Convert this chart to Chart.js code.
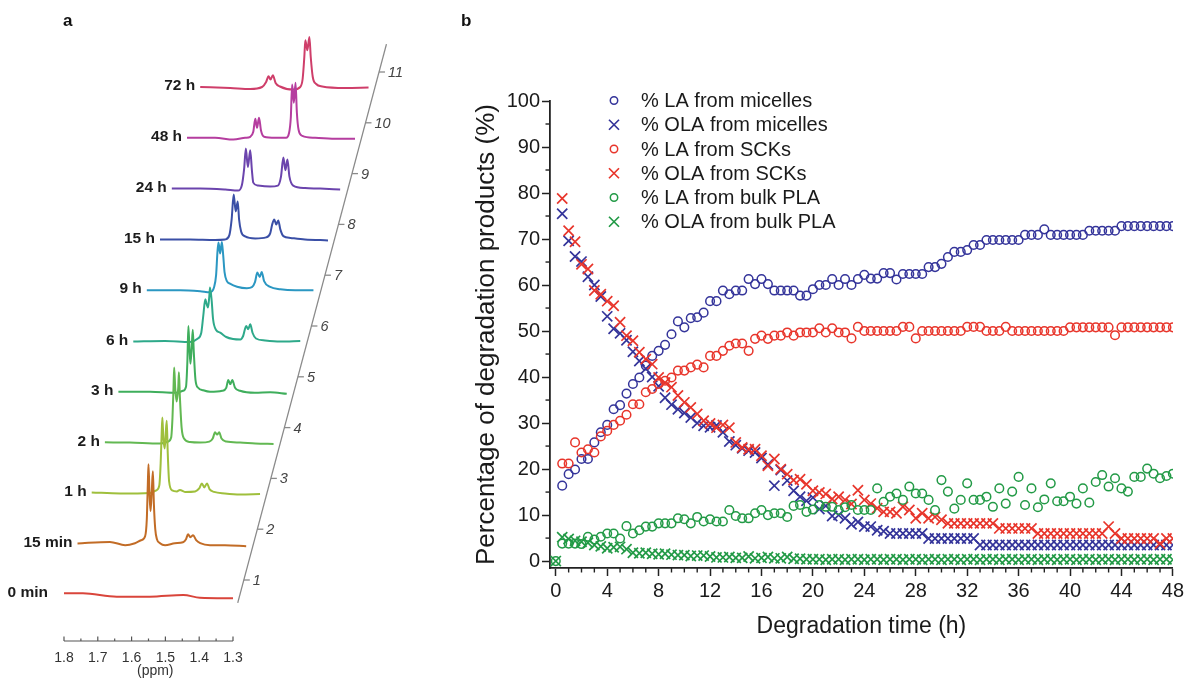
<!DOCTYPE html>
<html>
<head>
<meta charset="utf-8">
<title>PLA degradation: NMR spectra and product kinetics</title>
<script src="https://cdn.jsdelivr.net/npm/chart.js@4.4.1/dist/chart.umd.min.js"></script>
<style>
  html, body { margin: 0; padding: 0; background: #ffffff; }
  #wrap { position: relative; width: 1187px; height: 678px; overflow: hidden;
          font-family: "Liberation Sans", Arial, Helvetica, sans-serif; }
  #nmr { position: absolute; left: 0; top: 0; }
  #kin { position: absolute; left: 440px; top: 0; }
  .tag { position: absolute; top: 12px; font-size: 17px; line-height: 1; font-weight: bold; color: #111; }
</style>
</head>
<body>
<div id="wrap">
  <canvas id="nmr" width="440" height="678"></canvas>
  <canvas id="kin" width="747" height="678"></canvas>
  <div class="tag" style="left:63px">a</div>
  <div class="tag" style="left:461px">b</div>
</div>
<script>
// ---------- Panel a: 1H NMR spectra (ppm, intensity) ----------
const spectrumLabels = ['0 min', '15 min', '1 h', '2 h', '3 h', '6 h', '9 h', '15 h', '24 h', '48 h', '72 h'];
const stackTickLabels = ['1', '2', '3', '4', '5', '6', '7', '8', '9', '10', '11'];
const ppmTickValues = [1.8, 1.7, 1.6, 1.5, 1.4, 1.3];
const ppmTickLabels = ['1.8', '1.7', '1.6', '1.5', '1.4', '1.3'];

const spec0min = [[1.800,1.7],[1.744,1.7],[1.644,-1.7],[1.546,-1.7],[1.447,0],[1.398,-2.7],[1.300,-3.3]];
const spec15min = [[1.800,0.7],[1.704,2.3],[1.659,-1],[1.630,1],[1.612,4],[1.600,8],[1.595,25],[1.592,60],[1.590,80],
  [1.587,50],[1.584,33],[1.580,55],[1.577,73],[1.574,40],[1.570,15],[1.565,5],[1.556,1],[1.541,-1],[1.512,1],[1.488,2],
  [1.479,5],[1.473,10],[1.466,7],[1.458,9],[1.449,4],[1.437,1],[1.408,-1],[1.364,-1],[1.301,-2]];
const spec1h = [[1.798,1],[1.714,0],[1.625,0.5],[1.607,3],[1.598,8],[1.594,30],[1.591,60],[1.589,76],[1.586,55],[1.582,45],
  [1.579,60],[1.576,72.7],[1.573,40],[1.569,12],[1.560,3],[1.546,2],[1.537,3.5],[1.522,1.5],[1.492,2],[1.480,5],[1.472,10],
  [1.465,6],[1.457,10],[1.449,4],[1.436,1.5],[1.404,0],[1.359,-1],[1.300,-0.7]];
const spec2h = [[1.799,0.3],[1.725,0],[1.636,-1],[1.612,1],[1.603,5],[1.599,25],[1.596,55],[1.594,75],[1.591,55],[1.587,41],
  [1.582,55],[1.580,70.3],[1.577,45],[1.572,15],[1.565,4],[1.547,0.5],[1.517,0],[1.490,1],[1.480,4],[1.473,10.3],[1.467,8],
  [1.461,10.3],[1.454,4],[1.440,1],[1.399,0],[1.354,-1],[1.300,-1.3]];
const spec3h = [[1.799,0],[1.705,0],[1.631,-1],[1.608,1],[1.599,5],[1.595,30],[1.592,65.7],[1.589,45],[1.586,28],[1.582,45],
  [1.579,62],[1.576,40],[1.571,12],[1.563,4],[1.548,1.5],[1.528,0],[1.492,1],[1.480,4],[1.474,11.7],[1.468,7.7],[1.462,11.7],
  [1.454,4],[1.439,1],[1.395,-1],[1.350,-0.5],[1.301,-2]];
const spec6h = [[1.795,-0.6],[1.701,0],[1.627,-1],[1.606,2],[1.594,8],[1.588,25],[1.582,41.7],[1.578,37],[1.574,33.4],[1.570,45],
  [1.568,53.4],[1.563,40],[1.559,22],[1.550,11],[1.538,8.4],[1.520,4],[1.500,2],[1.478,1.5],[1.470,5],[1.461,15],[1.455,11.7],
  [1.449,16.7],[1.442,8],[1.432,2.5],[1.405,0.5],[1.361,-0.5],[1.301,0]];
const spec9h = [[1.795,0],[1.696,0],[1.637,-1],[1.608,-2],[1.596,3],[1.590,15],[1.586,38],[1.583,47.6],[1.578,36.6],[1.573,48.3],
  [1.569,35],[1.565,18],[1.558,9],[1.549,6.6],[1.528,3.5],[1.499,2],[1.484,3],[1.475,8],[1.468,17.6],[1.461,13.3],[1.455,18.3],
  [1.448,9],[1.430,3.3],[1.400,1],[1.356,0],[1.302,0]];
const spec15h = [[1.796,0],[1.707,0],[1.633,-0.5],[1.603,0],[1.591,4],[1.584,20],[1.578,45],[1.572,28],[1.566,38],[1.562,20],
  [1.556,8],[1.544,3],[1.514,1],[1.482,2],[1.470,6],[1.464,15],[1.458,20],[1.452,15],[1.446,19],[1.440,10],[1.431,3.3],
  [1.410,1.5],[1.367,0],[1.299,-1]];
const spec24h = [[1.801,0],[1.717,0],[1.643,-1],[1.605,-2],[1.594,3],[1.587,20],[1.582,40],[1.576,21.7],[1.569,38.3],[1.564,18],
  [1.560,6],[1.546,3],[1.510,2],[1.487,3],[1.478,12],[1.471,31],[1.465,18.3],[1.459,29],[1.453,12],[1.442,3],[1.407,0.5],
  [1.362,0],[1.303,-1]];
const spec48h = [[1.796,0],[1.713,0],[1.659,-1.7],[1.624,0],[1.609,1],[1.600,6],[1.594,19],[1.589,10],[1.583,20],[1.577,7],
  [1.568,1],[1.535,0],[1.503,0],[1.494,5],[1.489,20],[1.485,53.3],[1.480,35],[1.475,55],[1.471,25],[1.466,8],[1.455,2],
  [1.417,0],[1.358,-1],[1.299,-1]];
const spec72h = [[1.797,0],[1.708,-1],[1.649,-2],[1.614,0],[1.602,5],[1.595,10.7],[1.589,7.4],[1.582,11.7],[1.574,4],[1.561,0.5],
  [1.522,-2.6],[1.501,0],[1.494,8],[1.489,30],[1.486,46.7],[1.480,36.7],[1.474,50],[1.470,30],[1.464,10],[1.454,3],[1.436,0.5],
  [1.368,-1],[1.299,-0.6]];
const spectra = [spec0min, spec15min, spec1h, spec2h, spec3h, spec6h, spec9h, spec15h, spec24h, spec48h, spec72h];

// ---------- Panel b: degradation products vs time ----------
const hours = [0.5,1,1.5,2,2.5,3,3.5,4,4.5,5,5.5,6,6.5,7,7.5,8,8.5,9,9.5,10,10.5,11,11.5,12,12.5,13,13.5,14,14.5,15,
  15.5,16,16.5,17,17.5,18,18.5,19,19.5,20,20.5,21,21.5,22,22.5,23,23.5,24,24.5,25,25.5,26,26.5,27,27.5,28,28.5,29,29.5,30,
  30.5,31,31.5,32,32.5,33,33.5,34,34.5,35,35.5,36,36.5,37,37.5,38,38.5,39,39.5,40,40.5,41,41.5,42,42.5,43,43.5,44,44.5,45,
  45.5,46,46.5,47,47.5,48];
const hoursBulk = [0].concat(hours);

const laMicelles = [16.4,18.9,19.9,22.2,22.2,25.8,28.0,29.6,33.0,33.9,
  36.4,38.5,39.9,42.5,44.6,45.7,47.0,49.3,52.1,50.8,
  52.8,53.0,54.0,56.5,56.5,58.8,58.0,58.8,58.8,61.3,
  60.2,61.3,60.2,58.8,58.8,58.8,58.8,57.7,57.7,59.1,
  60.0,60.0,61.3,60.0,61.3,60.0,61.3,62.2,61.4,61.4,
  62.6,62.6,61.2,62.4,62.4,62.4,62.4,63.9,63.9,64.6,
  66.1,67.2,67.2,67.6,68.7,68.7,69.8,69.8,69.8,69.8,
  69.8,69.8,70.9,70.9,70.9,72.1,70.9,70.9,70.9,70.9,
  70.9,70.9,71.8,71.8,71.8,71.8,71.8,72.8,72.8,72.8,
  72.8,72.8,72.8,72.8,72.8,72.8];
const olaMicelles = [75.5,69.6,66.2,65.1,61.8,60.0,57.5,53.2,50.5,49.5,
  48.0,45.5,43.5,41.8,40.0,38.0,35.5,34.0,33.0,32.2,
  31.2,30.0,29.4,29.1,29.5,28.0,26.0,25.2,24.5,24.0,
  23.6,22.4,21.0,16.4,19.8,17.5,15.3,14.0,13.1,13.8,
  11.3,12.0,9.8,10.0,9.3,8.0,8.5,7.5,7.5,6.7,
  6.5,6.0,6.0,6.0,6.0,6.0,6.0,4.9,4.9,4.9,
  4.9,4.9,4.9,4.9,4.9,3.5,3.5,3.5,3.5,3.5,
  3.5,3.5,3.5,3.5,3.5,3.5,3.5,3.5,3.5,3.5,
  3.5,3.5,3.5,3.5,3.5,3.5,3.5,3.5,3.5,3.5,
  3.5,3.5,3.5,3.5,3.5,3.5];
const laSCKs = [21.2,21.2,25.8,23.6,24.3,23.6,27.1,28.3,29.6,30.5,
  31.8,34.1,34.1,36.7,37.4,38.5,39.2,39.9,41.4,41.4,
  42.1,42.7,42.1,44.6,44.6,45.7,46.8,47.3,47.3,45.7,
  48.3,49.0,48.3,49.0,49.0,49.7,49.0,49.7,49.7,49.7,
  50.6,49.7,50.6,49.7,49.7,48.4,50.9,50.0,50.0,50.0,
  50.0,50.0,50.0,50.9,50.9,48.4,50.0,50.0,50.0,50.0,
  50.0,50.0,50.0,50.9,50.9,50.9,50.0,50.0,50.0,50.9,
  50.0,50.0,50.0,50.0,50.0,50.0,50.0,50.0,50.0,50.8,
  50.8,50.8,50.8,50.8,50.8,50.8,49.1,50.8,50.8,50.8,
  50.8,50.8,50.8,50.8,50.8,50.8];
const olaSCKs = [78.8,71.8,69.4,64.5,63.5,58.8,58.0,56.5,55.5,51.9,
  49.0,47.9,45.4,43.9,42.8,39.9,38.8,37.8,36.0,34.5,
  33.4,32.0,30.5,29.9,29.0,29.6,29.0,25.8,24.7,24.3,
  24.3,22.9,20.7,22.2,20.0,18.9,17.6,17.8,16.7,15.3,
  14.9,14.6,13.5,14.0,13.3,12.4,15.4,13.3,12.5,11.5,
  10.7,10.7,10.4,11.8,11.1,9.3,10.4,9.3,9.6,9.0,
  8.2,8.2,8.2,8.2,8.2,8.2,8.2,8.2,7.1,7.1,
  7.1,7.1,7.1,7.1,6.0,6.0,6.0,6.0,6.0,6.0,
  6.0,6.0,6.0,6.0,6.0,7.5,6.0,4.9,4.9,4.9,
  4.9,4.9,4.9,3.8,4.9,4.9];
const laBulk = [0,
  3.8,3.8,3.8,3.7,5.3,4.7,5.3,6.0,6.0,4.9,
  7.6,6.0,6.7,7.5,7.5,8.2,8.2,8.2,9.3,9.1,
  8.2,9.6,8.6,9.1,8.6,8.6,11.1,9.8,9.3,9.3,
  10.4,11.1,10.0,10.4,10.4,9.6,12.0,12.2,10.7,11.2,
  12.2,11.8,11.8,11.1,11.7,12.2,11.1,11.1,11.1,15.8,
  12.9,14.0,14.7,13.3,16.2,14.7,14.7,13.3,11.1,17.6,
  15.1,11.4,13.3,16.9,13.3,13.3,14.0,11.8,15.8,12.5,
  15.1,18.3,12.2,15.8,11.7,13.4,16.9,13.0,13.0,14.0,
  12.5,15.8,12.7,17.2,18.7,16.2,18.0,15.8,15.1,18.3,
  18.3,20.1,19.0,18.0,18.5,19.0];
const olaBulk = [0,
  5.2,4.8,4.4,4.2,4.0,3.5,3.2,2.8,3.0,3.1,
  2.6,1.8,1.7,1.8,1.6,1.5,1.6,1.4,1.3,1.3,
  1.1,1.2,1.2,1.0,0.8,0.8,0.9,0.7,0.7,1.0,
  0.6,0.7,0.9,0.6,0.6,0.9,0.5,0.5,0.4,0.4,
  0.4,0.3,0.4,0.4,0.3,0.4,0.4,0.3,0.4,0.4,
  0.3,0.4,0.4,0.3,0.4,0.4,0.3,0.4,0.4,0.3,
  0.4,0.4,0.3,0.4,0.4,0.3,0.4,0.4,0.3,0.4,
  0.4,0.3,0.4,0.4,0.3,0.4,0.4,0.3,0.4,0.4,
  0.3,0.4,0.4,0.3,0.4,0.4,0.3,0.4,0.4,0.3,
  0.4,0.4,0.3,0.4,0.4,0.3];

const seriesNames = ['% LA from micelles', '% OLA from micelles', '% LA from SCKs',
  '% OLA from SCKs', '% LA from bulk PLA', '% OLA from bulk PLA'];
const xTickValues = [0, 4, 8, 12, 16, 20, 24, 28, 32, 36, 40, 44, 48];
const xTickLabels = ['0', '4', '8', '12', '16', '20', '24', '28', '32', '36', '40', '44', '48'];
const yTickValues = [0, 10, 20, 30, 40, 50, 60, 70, 80, 90, 100];
const yTickLabels = ['0', '10', '20', '30', '40', '50', '60', '70', '80', '90', '100'];

// ---------- styles ----------
const FONT = '"Liberation Sans", Arial, Helvetica, sans-serif';
Chart.defaults.font.family = FONT;
Chart.defaults.color = '#1a1a1a';

const spectrumColors = ['#d9453b', '#c26c26', '#9fbf3c', '#62b852', '#3fae5c', '#2ea98a',
  '#2b97c2', '#3a4fa6', '#6b44ad', '#b53d9f', '#cf3e6a'];
const BLUE = '#34349a', RED = '#e8352b', GREEN = '#229a46';
const STACK_SHIFT_PPM = 0.04;   // horizontal offset of each stacked trace
const STACK_RISE = 50.8;        // vertical offset of each stacked trace
const STACK_AXIS_X0 = 1.268, STACK_AXIS_Y0 = 15;
const PPM_AXIS_LEVEL = -46;

// ---------- panel a decorations: trace names, slanted stack axis, ppm axis ----------
const nmrDecor = {
  id: 'nmrDecor',
  afterDatasetsDraw(chart) {
    const { ctx, scales: { x, y } } = chart;
    ctx.save();
    // trace names
    ctx.font = 'bold 15.5px ' + FONT;
    ctx.fillStyle = '#1c1c1c';
    ctx.textAlign = 'right';
    ctx.textBaseline = 'middle';
    spectra.forEach((pts, k) => {
      const px = x.getPixelForValue(pts[0][0] - k * STACK_SHIFT_PPM);
      const py = y.getPixelForValue(pts[0][1] + k * STACK_RISE);
      ctx.fillText(spectrumLabels[k], px - (k === 0 ? 16 : 5), py - 1);
    });
    // slanted stack axis
    const ax = s => x.getPixelForValue(STACK_AXIS_X0 - s * STACK_SHIFT_PPM);
    const ay = s => y.getPixelForValue(STACK_AXIS_Y0 + s * STACK_RISE);
    ctx.strokeStyle = '#8a8a8a';
    ctx.lineWidth = 1.3;
    ctx.beginPath();
    ctx.moveTo(ax(-0.45), ay(-0.45));
    ctx.lineTo(ax(10.55), ay(10.55));
    ctx.stroke();
    ctx.font = 'italic 14.5px ' + FONT;
    ctx.fillStyle = '#444';
    ctx.textAlign = 'left';
    stackTickLabels.forEach((lab, s) => {
      ctx.beginPath();
      ctx.moveTo(ax(s), ay(s));
      ctx.lineTo(ax(s) + 6, ay(s));
      ctx.stroke();
      ctx.fillText(lab, ax(s) + 9, ay(s) + 1);
    });
    // ppm axis
    const yb = y.getPixelForValue(PPM_AXIS_LEVEL);
    ctx.strokeStyle = '#555';
    ctx.lineWidth = 1.2;
    ctx.beginPath();
    ctx.moveTo(x.getPixelForValue(1.8), yb);
    ctx.lineTo(x.getPixelForValue(1.3), yb);
    ctx.stroke();
    for (let i = 0; i <= 10; i++) {
      const v = 1.8 - i * 0.05;
      const px = x.getPixelForValue(v);
      ctx.beginPath();
      ctx.moveTo(px, yb);
      ctx.lineTo(px, yb - (i % 2 === 0 ? 4.5 : 2.5));
      ctx.stroke();
    }
    ctx.font = '14px ' + FONT;
    ctx.fillStyle = '#333';
    ctx.textAlign = 'center';
    ppmTickValues.forEach((v, i) => ctx.fillText(ppmTickLabels[i], x.getPixelForValue(v), yb + 17));
    ctx.fillText('(ppm)', x.getPixelForValue(1.53), yb + 30);
    ctx.restore();
  }
};

new Chart(document.getElementById('nmr'), {
  type: 'scatter',
  data: {
    datasets: spectra.map((pts, k) => ({
      label: spectrumLabels[k],
      data: pts.map(([ppm, inten]) => ({ x: ppm - k * STACK_SHIFT_PPM, y: inten + k * STACK_RISE })),
      showLine: true,
      pointRadius: 0,
      borderColor: spectrumColors[k],
      borderWidth: 2,
      cubicInterpolationMode: 'monotone',
      fill: false
    }))
  },
  options: {
    responsive: false, animation: false, devicePixelRatio: 1, events: [],
    layout: { padding: 0 },
    plugins: { legend: { display: false }, tooltip: { enabled: false } },
    scales: {
      x: { type: 'linear', reverse: true, min: 0.6876, max: 1.9893, display: false },
      y: { type: 'linear', min: -83, max: 595, display: false }
    }
  },
  plugins: [nmrDecor]
});

// ---------- panel b ----------
const CIRCLE_R = 4.3, CROSS_R = 7.2;
function seriesSet(label, xs, ys, color, isCross, order) {
  return {
    label, order,
    data: xs.map((t, i) => ({ x: t, y: ys[i] })),
    showLine: false,
    pointStyle: isCross ? 'crossRot' : 'circle',
    pointRadius: isCross ? CROSS_R : CIRCLE_R,
    pointBorderWidth: isCross ? 1.7 : 1.5,
    pointBorderColor: color,
    pointBackgroundColor: 'rgba(0,0,0,0)',
    borderColor: color
  };
}
const kinSets = [
  seriesSet(seriesNames[0], hours, laMicelles, BLUE, false, 6),
  seriesSet(seriesNames[1], hours, olaMicelles, BLUE, true, 5),
  seriesSet(seriesNames[2], hours, laSCKs, RED, false, 4),
  seriesSet(seriesNames[3], hours, olaSCKs, RED, true, 3),
  seriesSet(seriesNames[4], hoursBulk, laBulk, GREEN, false, 2),
  seriesSet(seriesNames[5], hoursBulk, olaBulk, GREEN, true, 1)
];

const minorTicks = {
  id: 'minorTicks',
  afterDraw(chart) {
    const { ctx, chartArea, scales: { x, y } } = chart;
    ctx.save();
    ctx.strokeStyle = '#222';
    ctx.lineWidth = 1.4;
    for (let v = 1; v < 48; v++) {
      if (v % 4 === 0) continue;
      const px = x.getPixelForValue(v);
      ctx.beginPath(); ctx.moveTo(px, chartArea.bottom); ctx.lineTo(px, chartArea.bottom + 4.5); ctx.stroke();
    }
    for (let v = 5; v < 100; v += 10) {
      const py = y.getPixelForValue(v);
      ctx.beginPath(); ctx.moveTo(chartArea.left, py); ctx.lineTo(chartArea.left - 4.5, py); ctx.stroke();
    }
    ctx.restore();
  }
};

const legendBox = {
  id: 'legendBox',
  afterDraw(chart) {
    const ctx = chart.ctx;
    const x0 = 174, y0 = 100.5, dy = 24.25;
    ctx.save();
    ctx.font = '20px ' + FONT;
    ctx.textBaseline = 'middle';
    ctx.textAlign = 'left';
    chart.data.datasets.forEach((ds, i) => {
      const yy = y0 + i * dy;
      ctx.strokeStyle = ds.pointBorderColor;
      ctx.lineWidth = ds.pointBorderWidth;
      ctx.beginPath();
      if (ds.pointStyle === 'circle') {
        ctx.arc(x0, yy, 3.7, 0, Math.PI * 2);
      } else {
        const d = 5;
        ctx.moveTo(x0 - d, yy - d); ctx.lineTo(x0 + d, yy + d);
        ctx.moveTo(x0 + d, yy - d); ctx.lineTo(x0 - d, yy + d);
      }
      ctx.stroke();
      ctx.fillStyle = '#1a1a1a';
      ctx.fillText(ds.label, x0 + 27, yy + 1);
    });
    ctx.restore();
  }
};

new Chart(document.getElementById('kin'), {
  type: 'scatter',
  data: { datasets: kinSets },
  options: {
    responsive: false, animation: false, devicePixelRatio: 1, events: [],
    layout: { padding: { top: 101, right: 12, bottom: 0, left: 0 } },
    plugins: { legend: { display: false }, tooltip: { enabled: false } },
    scales: {
      x: {
        type: 'linear', min: -0.45, max: 48,
        afterBuildTicks: s => { s.ticks = xTickValues.map(v => ({ value: v })); },
        afterFit: s => { s.height = 110; },
        border: { display: true, color: '#222', width: 1.8 },
        grid: { display: true, drawOnChartArea: false, drawTicks: true, tickLength: 8, tickColor: '#222', tickWidth: 1.5 },
        ticks: { font: { size: 20 }, color: '#1a1a1a', padding: 3, maxRotation: 0, autoSkip: false,
                 callback: (v, i) => xTickLabels[i] },
        title: { display: true, text: 'Degradation time (h)', color: '#1a1a1a',
                 font: { size: 23, lineHeight: 1.2 }, padding: { top: 0, bottom: 38 } }
      },
      y: {
        type: 'linear', min: -1.5, max: 100,
        afterBuildTicks: s => { s.ticks = yTickValues.map(v => ({ value: v })); },
        afterFit: s => { s.width = 110; },
        border: { display: true, color: '#222', width: 1.8 },
        grid: { display: true, drawOnChartArea: false, drawTicks: true, tickLength: 8, tickColor: '#222', tickWidth: 1.5 },
        ticks: { font: { size: 20 }, color: '#1a1a1a', padding: 2, autoSkip: false,
                 callback: (v, i) => yTickLabels[i] },
        title: { display: true, text: 'Percentage of degradation products (%)', color: '#1a1a1a',
                 font: { size: 26, lineHeight: 1.2 }, padding: { top: 31, bottom: 0 } }
      }
    }
  },
  plugins: [minorTicks, legendBox]
});
</script>
</body>
</html>
